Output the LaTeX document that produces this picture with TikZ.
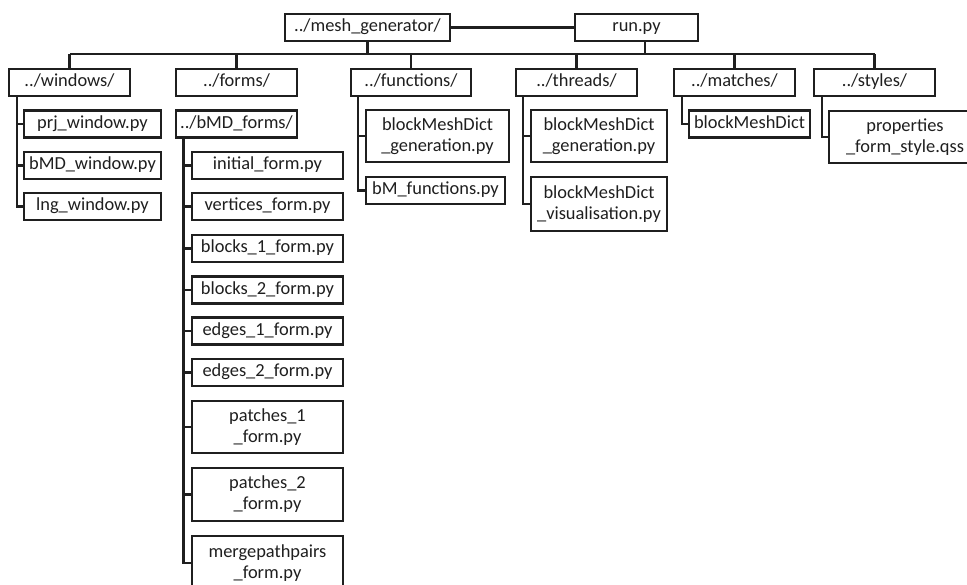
\documentclass[tikz,border=0pt]{standalone}
\usepackage{fontspec}
\setmainfont{Carlito}
\newcommand{\boxfont}{\fontsize{18.4}{21}\selectfont}
\tikzset{
  filebox/.style={draw=black!88, line width=2.4pt, fill=white, inner sep=0pt,
    font=\boxfont, text=black!88, align=center},
  oneline/.style={filebox, text height=13pt, text depth=4pt},
  link/.style={draw=black!88, line width=2.3pt},
}
\begin{document}
\begin{tikzpicture}[x=1pt,y=-1pt]
\useasboundingbox (0,0) rectangle (967,585);
\clip (0,0) rectangle (967,585);

% top level
\node[oneline, minimum width=165, minimum height=27] (mesh) at (367.5,27.5) {../mesh\_generator/};
\node[oneline, minimum width=123, minimum height=27] (run) at (636.5,27.5) {run.py};
\draw[link] (mesh) -- (run);

% bus
\coordinate (busL) at (70,54);
\coordinate (busR) at (874.5,54);
\coordinate (runfoot) at (645,41);
\draw[link] (busL) -- (busR);
\draw[link] (mesh.south) -- (mesh.south |- busL);
\draw[link] (runfoot) -- (runfoot |- busL);

% second level
\node[oneline, minimum width=121, minimum height=27] (windows) at (69.5,82.5) {../windows/};
\node[oneline, minimum width=121, minimum height=27] (forms) at (236.5,82.5) {../forms/};
\node[oneline, minimum width=120, minimum height=27] (functions) at (411,82.5) {../functions/};
\node[oneline, minimum width=121, minimum height=27] (threads) at (576.5,82.5) {../threads/};
\node[oneline, minimum width=121, minimum height=27] (matches) at (734.5,82.5) {../matches/};
\node[oneline, minimum width=121, minimum height=27] (styles) at (874.5,82.5) {../styles/};
\foreach \n in {windows,forms,functions,threads,matches,styles}
  \draw[link] (\n.north) -- (\n.north |- busL);

% windows
\coordinate (wsp) at (17,96);
\node[oneline, minimum width=137, minimum height=27] (prj) at (92.5,124) {prj\_window.py};
\node[oneline, minimum width=137, minimum height=27] (bmdw) at (92.5,165.5) {bMD\_window.py};
\node[oneline, minimum width=137, minimum height=27] (lng) at (92.5,206.5) {lng\_window.py};
\foreach \n in {prj,bmdw,lng}
  \draw[link] (wsp) |- (\n.west);

% forms
\node[oneline, minimum width=121, minimum height=27] (bmdforms) at (236.5,124) {../bMD\_forms/};
\coordinate (fsp) at (183.5,137);
\node[oneline, minimum width=151, minimum height=27] (initial) at (267.5,165.5) {initial\_form.py};
\node[oneline, minimum width=151, minimum height=27] (vertices) at (267.5,206.5) {vertices\_form.py};
\node[oneline, minimum width=151, minimum height=27] (blocksA) at (267.5,248.5) {blocks\_1\_form.py};
\node[oneline, minimum width=151, minimum height=27] (blocksB) at (267.5,290) {blocks\_2\_form.py};
\node[oneline, minimum width=151, minimum height=27] (edgesA) at (267.5,331) {edges\_1\_form.py};
\node[oneline, minimum width=151, minimum height=27] (edgesB) at (267.5,372.5) {edges\_2\_form.py};
\node[filebox, minimum width=151, minimum height=52] (patchesA) at (267.5,427) {patches\_1\\\_form.py};
\node[filebox, minimum width=151, minimum height=53] (patchesB) at (267.5,494.5) {patches\_2\\\_form.py};
\node[filebox, minimum width=151, minimum height=54] (merge) at (267.5,563) {mergepathpairs\\\_form.py};
\foreach \n in {initial,vertices,blocksA,blocksB,edgesA,edgesB,patchesA,patchesB,merge}
  \draw[link] (fsp) |- (\n.west);

% functions
\coordinate (fnsp) at (358,96);
\node[filebox, minimum width=143, minimum height=52] (gen) at (437.5,136) {blockMeshDict\\\_generation.py};
\node[oneline, minimum width=139, minimum height=27] (bmf) at (435.5,190.5) {bM\_functions.py};
\foreach \n in {gen,bmf}
  \draw[link] (fnsp) |- (\n.west);

% threads
\coordinate (tsp) at (523,96);
\node[filebox, minimum width=136, minimum height=52] (tgen) at (599,136) {blockMeshDict\\\_generation.py};
\node[filebox, minimum width=136, minimum height=54] (tvis) at (599,204) {blockMeshDict\\\_visualisation.py};
\foreach \n in {tgen,tvis}
  \draw[link] (tsp) |- (\n.west);

% matches
\coordinate (msp) at (682,96);
\node[oneline, minimum width=121, minimum height=27] (bmd) at (749.5,124) {blockMeshDict};
\draw[link] (msp) |- (bmd.west);

% styles
\coordinate (ssp) at (822,96);
\node[filebox, minimum width=152, minimum height=52] (qss) at (905,137) {properties\\\_form\_style.qss};
\draw[link] (ssp) |- (qss.west);
\end{tikzpicture}
\end{document}
